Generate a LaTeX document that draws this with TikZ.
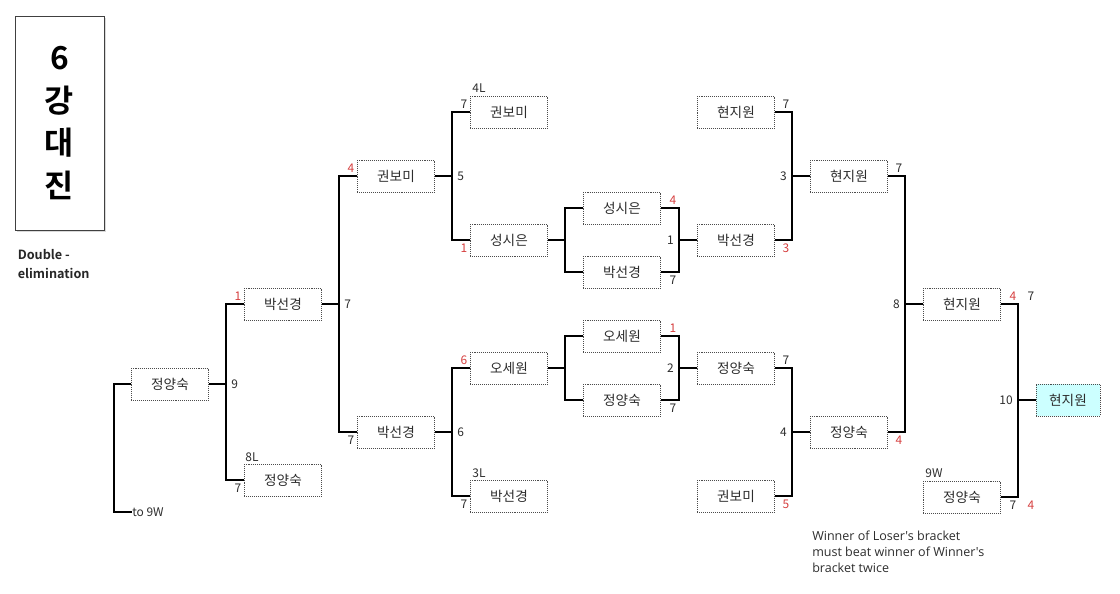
\documentclass[tikz,border=0pt]{standalone}
\usepackage{fontspec}
\setmainfont{Noto Sans CJK KR}[BoldFont={Noto Sans CJK KR Bold}]
\newfontfamily\notefont{Open Sans}
\usetikzlibrary{shadows}
\definecolor{scorered}{RGB}{214,64,64}
\definecolor{champcyan}{RGB}{204,255,255}
\definecolor{inkgray}{RGB}{45,45,45}

\begin{document}
\begin{tikzpicture}[
    x=0.25mm, y=-0.25mm,
    every node/.style={font=\fontsize{8.5}{10}\selectfont, text=inkgray},
    box/.style={rectangle, draw=black!70, line width=0.6pt, dash pattern=on 0.6pt off 0.8pt,
        minimum width=19.4mm, minimum height=8mm, inner sep=0pt, font=\fontsize{9.7}{11}\selectfont},
    champbox/.style={box, fill=champcyan, minimum width=16mm},
    score/.style={inner sep=0pt},
    redscore/.style={score, text=scorered},
    jlabel/.style={inner sep=0pt},
    titlebox/.style={rectangle, draw=black!75, line width=0.6pt, fill=white,
        minimum width=22.25mm, minimum height=53.5mm,
        drop shadow={shadow xshift=1.5pt, shadow yshift=-1.5pt, opacity=0.3}},
    titletext/.style={align=center, inner sep=0pt, font=\fontsize{22.5}{30.5}\selectfont\bfseries},
    subtext/.style={align=left, inner sep=0pt, font=\fontsize{9}{13.5}\selectfont\bfseries},
    notetext/.style={align=left, inner sep=0pt, font=\notefont\fontsize{8.9}{11.4}\selectfont},
    conn/.style={line width=0.9pt, black}
]
    \useasboundingbox (0,0) rectangle (1120,593);

    % title
    \node[titlebox] (title) at (59.5,123) {};
    \node[titletext, text=black] (titletxt) at (59.5,123) {6\\강\\대\\진};
    \node[subtext, text=black!85, anchor=west] (kind) at (17.5,264.5) {Double -\\elimination};

    % players
    \node[box] (c1) at (170,384) {정양숙};
    \node[box] (c2a) at (283,304) {박선경};
    \node[box] (c2b) at (283,480) {정양숙};
    \node[box] (c3a) at (396,176) {권보미};
    \node[box] (c3b) at (396,432) {박선경};
    \node[box] (c4a) at (509,112) {권보미};
    \node[box] (c4b) at (509,240) {성시은};
    \node[box] (c4c) at (509,368) {오세원};
    \node[box] (c4d) at (509,496) {박선경};
    \node[box] (c5a) at (622,208) {성시은};
    \node[box] (c5b) at (622,272) {박선경};
    \node[box] (c5c) at (622,336) {오세원};
    \node[box] (c5d) at (622,400) {정양숙};
    \node[box] (c6a) at (736,112) {현지원};
    \node[box] (c6b) at (736,240) {박선경};
    \node[box] (c6c) at (736,368) {정양숙};
    \node[box] (c6d) at (736,496) {권보미};
    \node[box] (c7a) at (849,176) {현지원};
    \node[box] (c7b) at (849,432) {정양숙};
    \node[box] (c8a) at (962,304) {현지원};
    \node[box] (c8b) at (962,497) {정양숙};
    \node[champbox] (champ) at (1068,400) {현지원};

    % seeds
    \node[score] (seed8l) at (252,457) {8L};
    \node[score] (seed4l) at (479,88) {4L};
    \node[score] (seed3l) at (479,473) {3L};
    \node[score] (seed9w) at (934,473) {9W};

    % junctions
    \coordinate (j9) at (226,384);
    \coordinate (j7) at (339,304);
    \coordinate (j5) at (452,176);
    \coordinate (j6) at (452,432);
    \coordinate (jsa) at (565,240);
    \coordinate (jsb) at (565,368);
    \coordinate (j1) at (679,240);
    \coordinate (j2) at (679,368);
    \coordinate (j3) at (792,176);
    \coordinate (j4) at (792,432);
    \coordinate (j8) at (905,304);
    \coordinate (j10) at (1018,400);

    \draw[conn] (c1.east) -- (j9);
    \draw[conn] (c2a.west) -| (j9) |- (c2b.west);
    \draw[conn] (c2a.east) -- (j7);
    \draw[conn] (c3a.west) -| (j7) |- (c3b.west);
    \draw[conn] (c3a.east) -- (j5);
    \draw[conn] (c4a.west) -| (j5) |- (c4b.west);
    \draw[conn] (c3b.east) -- (j6);
    \draw[conn] (c4c.west) -| (j6) |- (c4d.west);
    \draw[conn] (c4b.east) -- (jsa);
    \draw[conn] (c5a.west) -| (jsa) |- (c5b.west);
    \draw[conn] (c4c.east) -- (jsb);
    \draw[conn] (c5c.west) -| (jsb) |- (c5d.west);
    \draw[conn] (c5a.east) -| (j1) |- (c5b.east);
    \draw[conn] (j1) -- (c6b.west);
    \draw[conn] (c5c.east) -| (j2) |- (c5d.east);
    \draw[conn] (j2) -- (c6c.west);
    \draw[conn] (c6a.east) -| (j3) |- (c6b.east);
    \draw[conn] (j3) -- (c7a.west);
    \draw[conn] (c6c.east) -| (j4) |- (c6d.east);
    \draw[conn] (j4) -- (c7b.west);
    \draw[conn] (c7a.east) -| (j8) |- (c7b.east);
    \draw[conn] (j8) -- (c8a.west);
    \draw[conn] (c8a.east) -| (j10) |- (c8b.east);
    \draw[conn] (j10) -- (champ.west);

    % to 9W
    \node[score, anchor=west] (to9w) at (132,512) {to 9W};
    \coordinate (lbend) at (114,512);
    \draw[conn] (c1.west) -| (lbend) -- (to9w.west);

    % match numbers
    \node[jlabel, anchor=west] (m9) at (231,384) {9};
    \node[jlabel, anchor=west] (m7) at (344,304) {7};
    \node[jlabel, anchor=west] (m5) at (457,176) {5};
    \node[jlabel, anchor=west] (m6) at (457,432) {6};
    \node[jlabel, anchor=east] (m1) at (674,240) {1};
    \node[jlabel, anchor=east] (m2) at (674,368) {2};
    \node[jlabel, anchor=east] (m3) at (787,176) {3};
    \node[jlabel, anchor=east] (m4) at (787,432) {4};
    \node[jlabel, anchor=east] (m8) at (900,304) {8};
    \node[jlabel, anchor=east] (m10) at (1013,400) {10};

    % scores
    \node[redscore] (s2a) at (238,296) {1};
    \node[score] (s2b) at (238,488) {7};
    \node[redscore] (s3a) at (351,168) {4};
    \node[score] (s3b) at (351,440) {7};
    \node[score] (s4a) at (464,104) {7};
    \node[redscore] (s4b) at (464,248) {1};
    \node[redscore] (s4c) at (464,360) {6};
    \node[score] (s4d) at (464,504) {7};
    \node[redscore] (s5a) at (673,200) {4};
    \node[score] (s5b) at (673,280) {7};
    \node[redscore] (s5c) at (673,328) {1};
    \node[score] (s5d) at (673,408) {7};
    \node[score] (s6a) at (786,104) {7};
    \node[redscore] (s6b) at (786,248) {3};
    \node[score] (s6c) at (786,360) {7};
    \node[redscore] (s6d) at (786,504) {5};
    \node[score] (s7a) at (899,168) {7};
    \node[redscore] (s7b) at (899,440) {4};
    \node[redscore] (s8a) at (1013,296) {4};
    \node[score] (s8a2) at (1031,296) {7};
    \node[score] (s8b) at (1013,505) {7};
    \node[redscore] (s8b2) at (1031,505) {4};

    % note
    \node[notetext, anchor=west] (note) at (812,552)
        {Winner of Loser's bracket\\must beat winner of Winner's\\bracket twice};
\end{tikzpicture}
\end{document}
